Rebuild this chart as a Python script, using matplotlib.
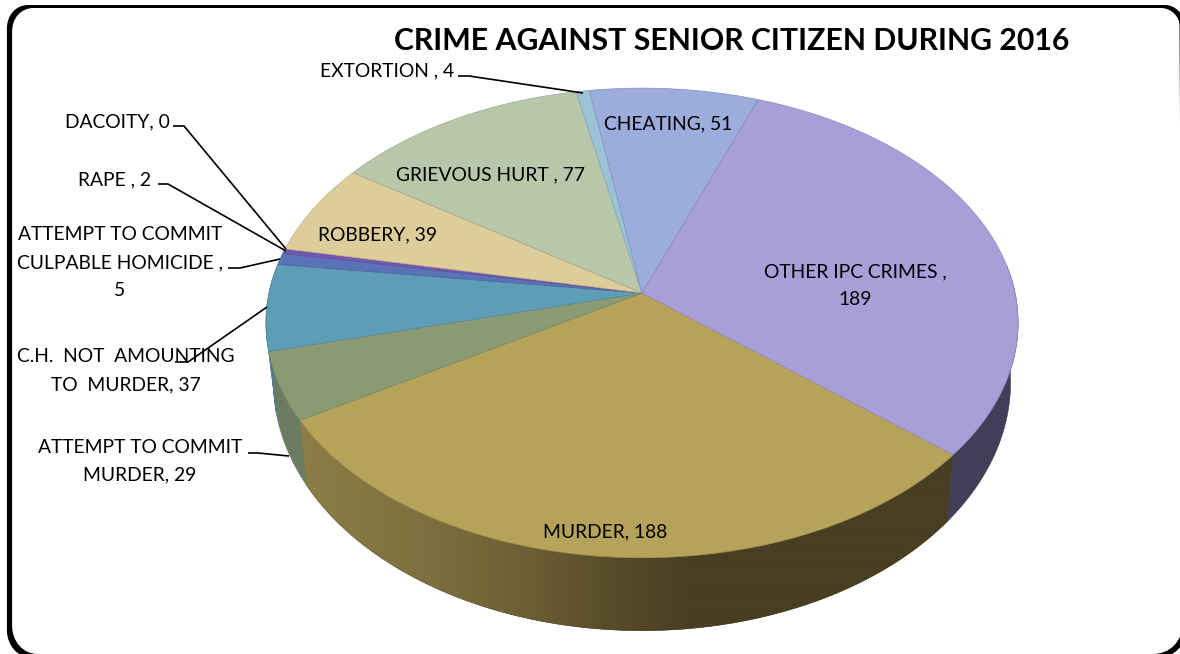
import numpy as np
import matplotlib
matplotlib.use("Agg")
import matplotlib.pyplot as plt
from matplotlib.patches import PathPatch, Polygon
from matplotlib.path import Path

# ---- data (clockwise order from the first slice) ----
categories = ["MURDER", "ATTEMPT TO COMMIT MURDER", "C.H. NOT AMOUNTING TO MURDER",
              "ATTEMPT TO COMMIT CULPABLE HOMICIDE", "RAPE", "DACOITY", "ROBBERY",
              "GRIEVOUS HURT", "EXTORTION", "CHEATING", "OTHER IPC CRIMES"]
values = [188, 29, 37, 5, 2, 0, 39, 77, 4, 51, 189]
top_colors = ["#B6A35A", "#8A9B74", "#5D9DB6", "#5A72B8", "#7358AF", "#7358AF", "#DDCD9A",
              "#B8C6AA", "#9BC3D7", "#9CACDC", "#A89FD9"]
side_colors = ["#483E22", "#6B7C60", "#4A7D92", "#485B93", "#5C468C", "#5C468C", "#B0A47B",
               "#939E88", "#7C9CAC", "#7D8AB0", "#433E58"]
title = "CRIME AGAINST SENIOR CITIZEN DURING 2016"

FONT = "Lato"
W, H = 1180, 654
fig = plt.figure(figsize=(W / 100, H / 100), dpi=100)
ax = fig.add_axes([0, 0, 1, 1])
ax.axis("off")

# ---- perspective disc geometry ----
CX, CY, A, B, K = 642, 293, 373, 231, 0.1275
SX, SY, DY = 0.98, 1.057, 57.8
START = -40.0


def top(theta):
    u, v = np.cos(theta), np.sin(theta)
    w = 1 + K * v
    return CX + A * u / w, CY - B * v / w


def bottom(theta):
    x, y = top(theta)
    return CX + SX * (x - CX), CY + SY * (y - CY) + DY


grad_x = [290, 420, 520, 600, 690, 960]
grad_rgb = np.array([(142, 127, 72), (126, 112, 62), (110, 96, 54),
                     (90, 78, 42), (72, 62, 34), (72, 62, 34)]) / 255

vals = np.array(values, dtype=float)
angles = START - np.concatenate([[0], np.cumsum(vals)]) * 360 / vals.sum()

# sides
for i in range(len(values)):
    if values[i] == 0:
        continue
    t = np.deg2rad(np.linspace(angles[i], angles[i + 1], 200))
    t = t[np.sin(t) < 0.12]
    if t.size < 2:
        continue
    xt, yt = top(t)
    xb, yb = bottom(t)
    pts = np.r_[np.c_[xt, yt], np.c_[xb, yb][::-1]]
    poly = Polygon(pts, closed=True, fc=side_colors[i], ec=side_colors[i], lw=0.4, zorder=1)
    ax.add_patch(poly)
    if i == 0:
        xs = np.arange(290, 960)
        grad = np.stack([np.interp(xs, grad_x, grad_rgb[:, c]) for c in range(3)], axis=-1)[None, :, :]
        im = ax.imshow(grad, extent=(290, 960, 640, 400), aspect="auto", zorder=2,
                       interpolation="bilinear")
        im.set_clip_path(poly)

ax.set_xlim(0, W)
ax.set_ylim(H, 0)

# tops
for i in range(len(values)):
    if values[i] == 0:
        continue
    t = np.deg2rad(np.linspace(angles[i], angles[i + 1], 200))
    x, y = top(t)
    pts = np.r_[[(CX, CY)], np.c_[x, y]]
    edge = tuple(0.85 * c for c in matplotlib.colors.to_rgb(top_colors[i]))
    ax.add_patch(Polygon(pts, closed=True, fc=top_colors[i], ec=edge, lw=0.5, zorder=3))

# frame: a filled ring, so each side can have its own thickness
M, C, Z, E = Path.MOVETO, Path.CURVE4, Path.LINETO, Path.CLOSEPOLY
centre = np.array([(31, 6.5), (1163, 6.5), (1173, 6.5), (1181.5, 15), (1181.5, 24), (1184.5, 626),
                   (1184.5, 643), (1172, 656), (1155, 656), (35, 656), (20, 656), (9.5, 643),
                   (9.5, 628), (9.5, 30), (9.5, 17), (18, 6.5), (31, 6.5)], dtype=float)
codes = [M, Z, C, C, C, Z, C, C, C, Z, C, C, C, Z, C, C, C]
off = np.c_[np.where(centre[:, 0] < 600, -2.6, 2.0), np.where(centre[:, 1] < 327, -1.5, 2.0)]
outer = centre + off
inner = (centre - off)[::-1]
inner_codes = [M] + list(codes[::-1][:-1])
frame = Path(np.r_[outer, inner], codes + inner_codes)
ax.add_patch(PathPatch(frame, fc="black", ec="none", zorder=6, clip_on=False))

# leader lines
leaders = [
    [(458, 76), (469, 76), (583, 93)],
    [(173, 126), (184, 126), (286, 249)],
    [(158, 184), (168, 184), (286, 251)],
    [(228, 268), (240, 268), (280, 259)],
    [(175, 362), (188, 362), (267, 307)],
    [(248, 453), (258, 453), (289, 456)],
]
for pts in leaders:
    xs, ys = zip(*pts)
    ax.plot(xs, ys, color="black", lw=1.2, zorder=5, solid_capstyle="butt")

# labels
labels = [
    (387, 70.5, "EXTORTION , 4"),
    (117, 121.5, "DACOITY, 0"),
    (115, 179.5, "RAPE , 2"),
    (120, 234.5, "ATTEMPT TO COMMIT"),
    (120, 262.5, "CULPABLE HOMICIDE ,"),
    (120, 290.5, "5"),
    (126, 356.5, "C.H.  NOT  AMOUNTING"),
    (126, 384.5, "TO  MURDER, 37"),
    (140, 447.5, "ATTEMPT TO COMMIT"),
    (140, 474.5, "MURDER, 29"),
    (378, 234.5, "ROBBERY, 39"),
    (490, 174.5, "GRIEVOUS HURT , 77"),
    (668, 123.5, "CHEATING, 51"),
    (855, 271.5, "OTHER IPC CRIMES ,"),
    (855, 299.5, "189"),
    (605, 531.5, "MURDER, 188"),
]
for x, y, s in labels:
    ax.text(x, y, s, ha="center", va="center", fontsize=13.85, family=FONT, color="black", zorder=7)

ax.text(732, 41, title, ha="center", va="center", fontsize=21.8, fontweight="bold",
        family=FONT, color="black", zorder=7)

fig.savefig("out.png", dpi=100, facecolor="white")
